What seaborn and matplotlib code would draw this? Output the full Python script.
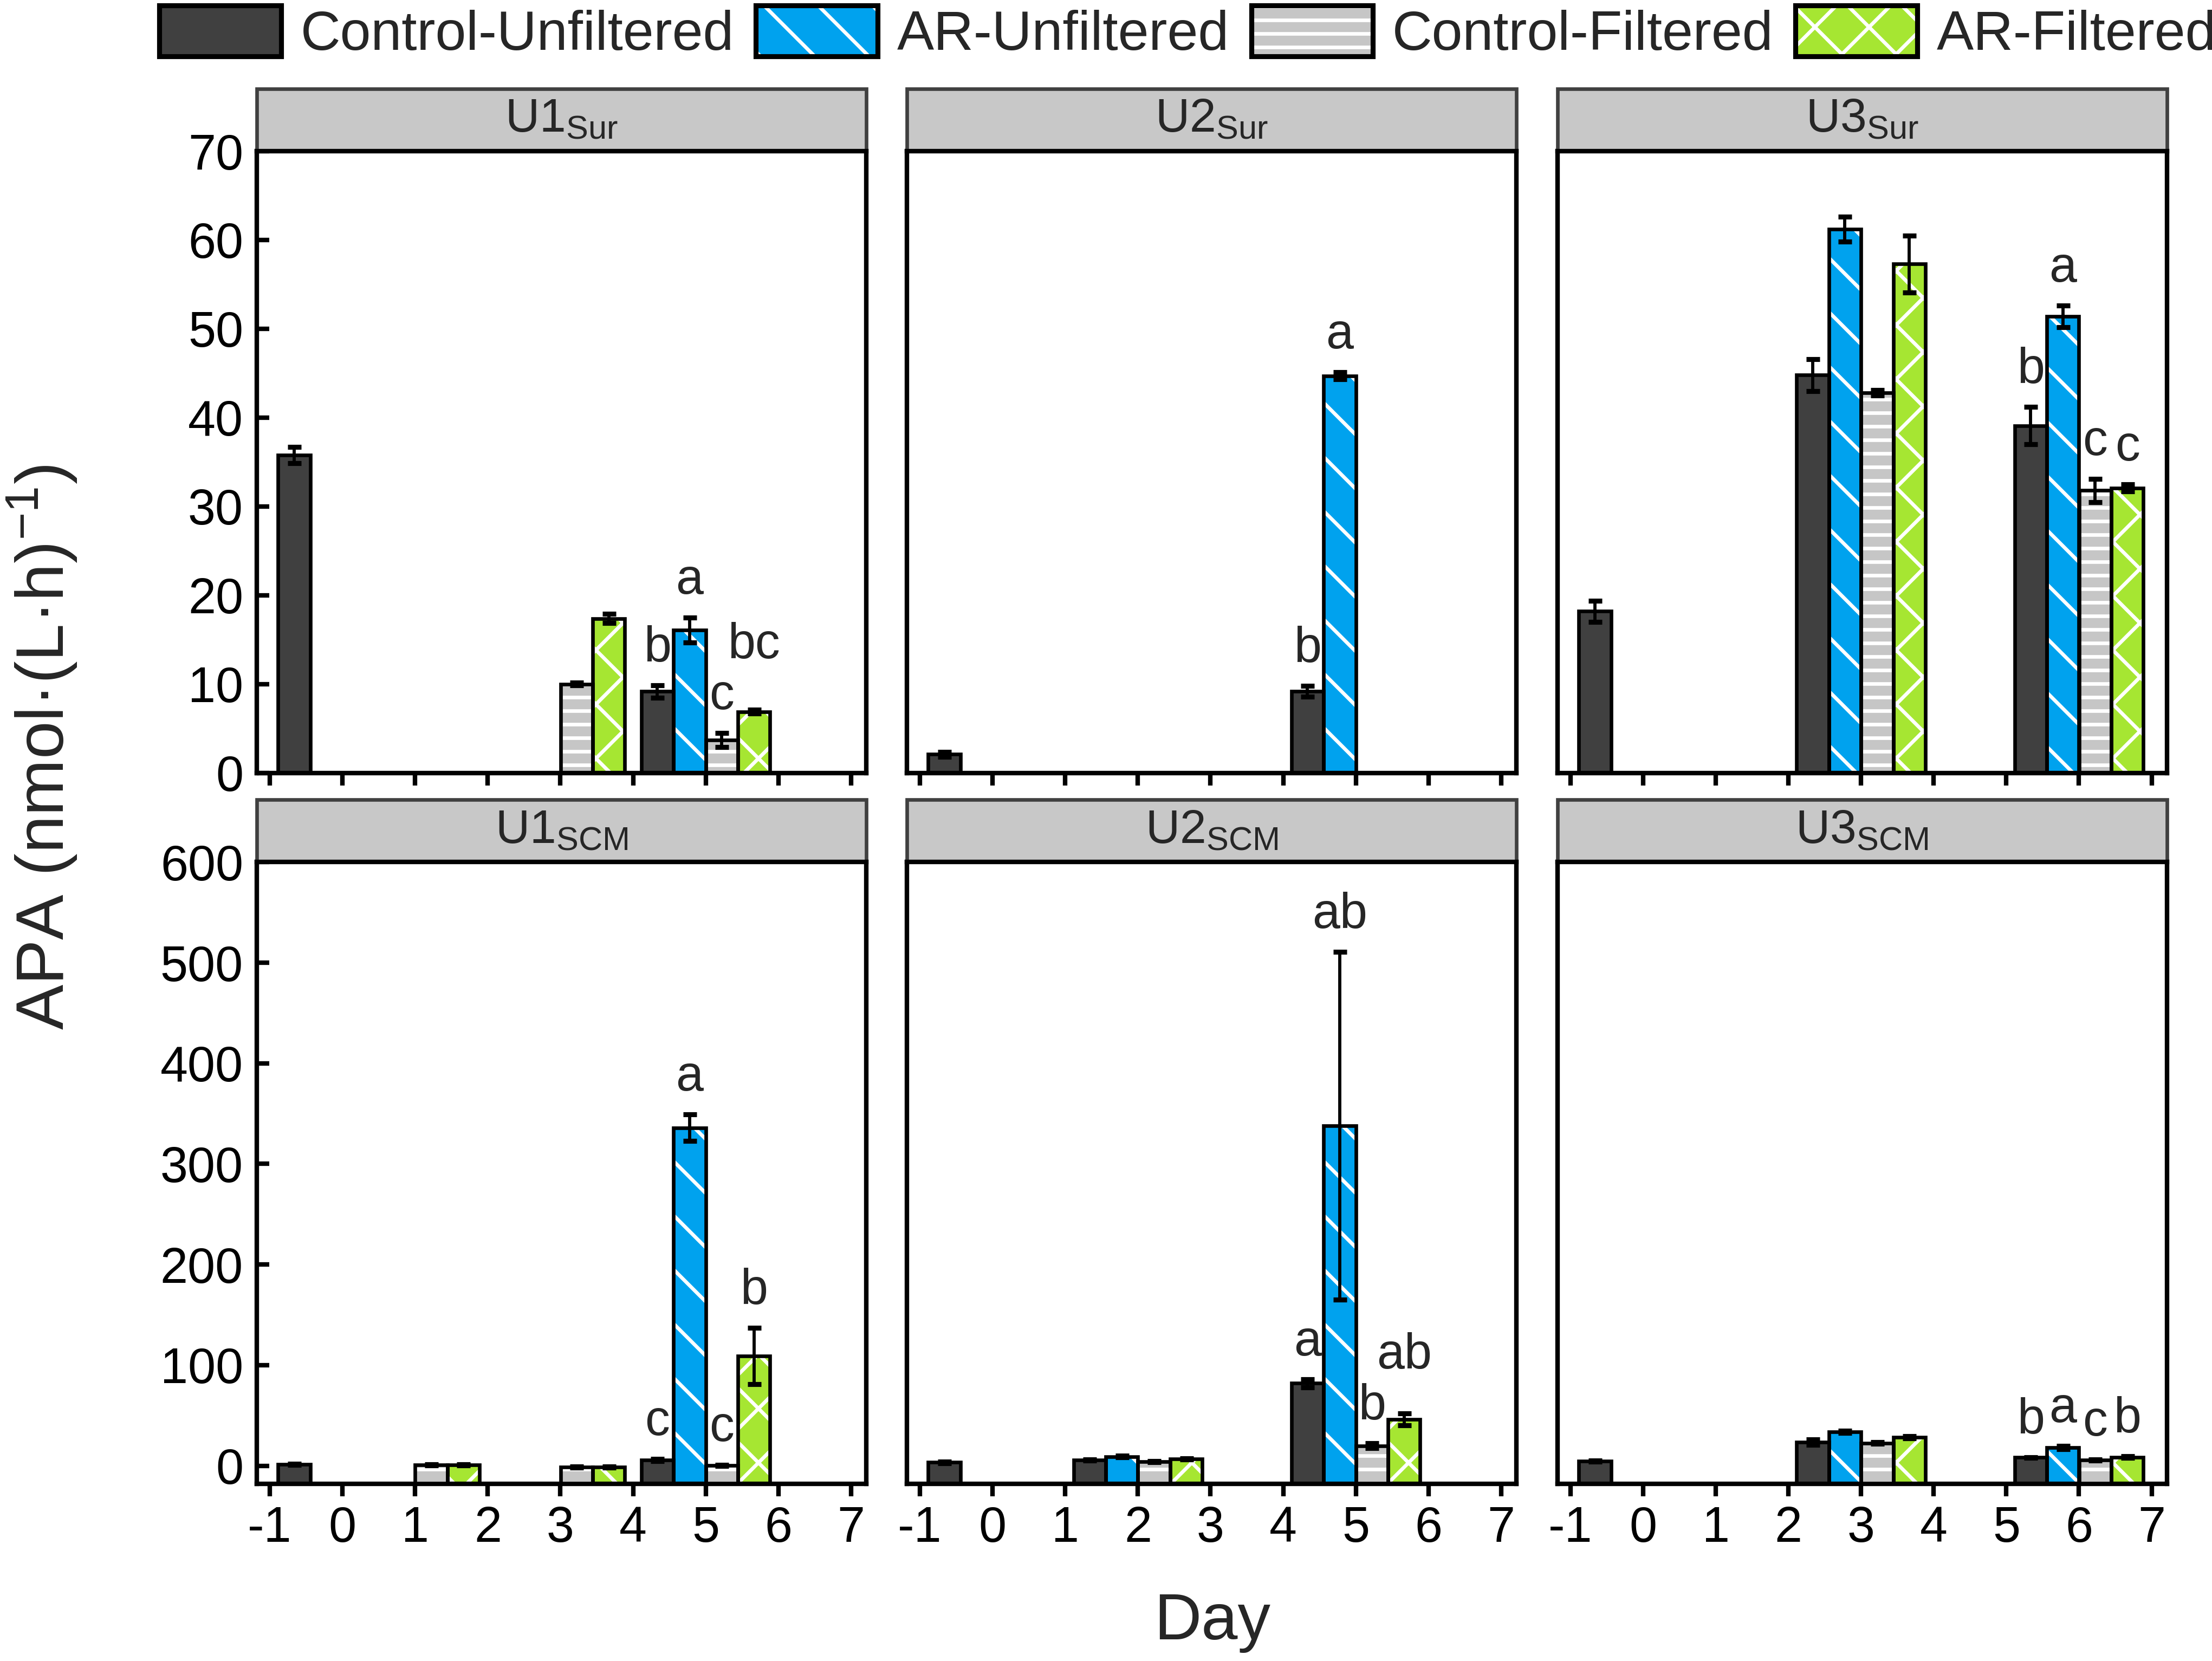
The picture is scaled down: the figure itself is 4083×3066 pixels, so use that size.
import matplotlib
matplotlib.use('Agg')
import matplotlib.pyplot as plt
from matplotlib.patches import Patch, Rectangle
from matplotlib.legend_handler import HandlerTuple
import seaborn as sns

# treatments (legend order) and their fills
treatments = ['Control-Unfiltered', 'AR-Unfiltered', 'Control-Filtered', 'AR-Filtered']
fill_colors = ['#404040', '#00a2ee', '#c6c6c6', '#a6e632']
hatches = ['', '\\', '--', 'x']

# panel titles: (station, layer)
stations = ['U1', 'U2', 'U3']
layers = ['Sur', 'SCM']

# each panel: sampling days, then mean / sd / letter per treatment (None = not sampled)
u1_sur_days = [0, 3, 5]
u1_sur_mean = [[35.8, None, None, None], [None, None, 10.0, 17.4], [9.2, 16.1, 3.7, 6.9]]
u1_sur_sd = [[0.9, 0, 0, 0], [0, 0, 0.15, 0.5], [0.7, 1.4, 0.8, 0.2]]
u1_sur_letters = [['', '', '', ''], ['', '', '', ''], ['b', 'a', 'c', 'bc']]

u2_sur_days = [0, 5]
u2_sur_mean = [[2.1, None, None, None], [9.2, 44.7, None, None]]
u2_sur_sd = [[0.3, 0, 0, 0], [0.6, 0.4, 0, 0]]
u2_sur_letters = [['', '', '', ''], ['b', 'a', '', '']]

u3_sur_days = [0, 3, 6]
u3_sur_mean = [[18.2, None, None, None], [44.8, 61.2, 42.8, 57.3], [39.1, 51.4, 31.8, 32.1]]
u3_sur_sd = [[1.2, 0, 0, 0], [1.8, 1.4, 0.3, 3.2], [2.1, 1.2, 1.3, 0.4]]
u3_sur_letters = [['', '', '', ''], ['', '', '', ''], ['b', 'a', 'c', 'c']]

u1_scm_days = [0, 1, 3, 5]
u1_scm_mean = [[1.4, None, None, None], [None, None, 1.0, 1.0], [None, None, -1.4, -1.4],
               [5.8, 336.0, 0.5, 109.0]]
u1_scm_sd = [[0.5, 0, 0, 0], [0, 0, 0.5, 0.5], [0, 0, 0.5, 0.5], [1.2, 13.0, 0.5, 28.0]]
u1_scm_letters = [['', '', '', ''], ['', '', '', ''], ['', '', '', ''], ['c', 'a', 'c', 'b']]

u2_scm_days = [0, 2, 5]
u2_scm_mean = [[3.4, None, None, None], [5.8, 9.2, 4.3, 6.7], [82.0, 338.0, 20.0, 46.0]]
u2_scm_sd = [[0.8, 0, 0, 0], [0.5, 0.8, 0.5, 0.5], [4.0, 173.0, 2.5, 6.0]]
u2_scm_letters = [['', '', '', ''], ['', '', '', ''], ['a', 'ab', 'b', 'ab']]

u3_scm_days = [0, 3, 6]
u3_scm_mean = [[4.8, None, None, None], [23.6, 33.7, 22.6, 28.4], [8.2, 18.3, 5.8, 8.7]]
u3_scm_sd = [[0.5, 0, 0, 0], [2.5, 1.2, 0.8, 1.0], [0.5, 1.5, 0.5, 1.0]]
u3_scm_letters = [['', '', '', ''], ['', '', '', ''], ['b', 'a', 'c', 'b']]

panels = [
    [(u1_sur_days, u1_sur_mean, u1_sur_sd, u1_sur_letters),
     (u2_sur_days, u2_sur_mean, u2_sur_sd, u2_sur_letters),
     (u3_sur_days, u3_sur_mean, u3_sur_sd, u3_sur_letters)],
    [(u1_scm_days, u1_scm_mean, u1_scm_sd, u1_scm_letters),
     (u2_scm_days, u2_scm_mean, u2_scm_sd, u2_scm_letters),
     (u3_scm_days, u3_scm_mean, u3_scm_sd, u3_scm_letters)],
]

x_ticks = [-1, 0, 1, 2, 3, 4, 5, 6, 7]
row_ylim = [(0, 70), (-18, 600)]
row_yticks = [list(range(0, 71, 10)), list(range(0, 601, 100))]

sns.set_theme(style='ticks')
plt.rcParams['font.family'] = ['Liberation Sans', 'DejaVu Sans']
plt.rcParams['mathtext.fontset'] = 'custom'
plt.rcParams['mathtext.rm'] = 'Liberation Sans'
plt.rcParams['mathtext.it'] = 'Liberation Sans:italic'
plt.rcParams['hatch.linewidth'] = 1.6
plt.rcParams['axes.linewidth'] = 2.0

fig = plt.figure(figsize=(4083 / 300, 3066 / 300), dpi=300)

col_left = [0.1161, 0.4100, 0.7041]
row_bottom = [0.5346, 0.1066]
ax_w, ax_h = 0.2755, 0.3744
strip_h = 0.10

offsets = [-0.665, -0.222, 0.222, 0.665]
bar_w = 0.443

panel_letters = []
for r in range(2):
    base = row_ylim[r][0]
    for c in range(3):
        ax = fig.add_axes([col_left[c], row_bottom[r], ax_w, ax_h])
        days, means, sds, letters = panels[r][c]
        texts = []
        for g, day in enumerate(days):
            for t in range(4):
                val = means[g][t]
                if val is None:
                    continue
                x = day + offsets[t]
                ax.bar(x, val - base, bottom=base, width=bar_w, color=fill_colors[t],
                       edgecolor='white', linewidth=0, hatch=hatches[t], zorder=2)
                ax.bar(x, val - base, bottom=base, width=bar_w, fill=False,
                       edgecolor='black', linewidth=1.6, zorder=3)
                ax.errorbar(x, val, yerr=sds[g][t], fmt='none', ecolor='black',
                            elinewidth=1.4, capsize=3.0, capthick=2.2, zorder=4)
                if letters[g][t]:
                    texts.append(ax.annotate(letters[g][t], (x, val + sds[g][t]),
                                             xytext=(0, 6), textcoords='offset points',
                                             ha='center', va='bottom', fontsize=22,
                                             zorder=5))
        panel_letters.append(texts)
        ax.set_xlim(-1.18, 7.21)
        ax.set_ylim(*row_ylim[r])
        ax.set_xticks(x_ticks)
        ax.set_yticks(row_yticks[r])
        for sp in ax.spines.values():
            sp.set_linewidth(2.0)
            sp.set_color('black')
        ax.tick_params(axis='x', direction='out', length=5.5, width=2.0, labelsize=22,
                       colors='black', pad=4)
        ax.tick_params(axis='y', direction='in', length=5.5, width=2.0, labelsize=22,
                       colors='black', pad=6)
        if r == 1:
            ax.set_xticklabels([str(v) for v in x_ticks])
        else:
            ax.tick_params(axis='x', labelbottom=False)
        if c != 0:
            ax.tick_params(axis='y', left=False, labelleft=False)

        # strip header
        ax.add_patch(Rectangle((0, 1), 1, strip_h, transform=ax.transAxes, clip_on=False,
                               facecolor='#c8c8c8', edgecolor='#404040', linewidth=1.6,
                               zorder=6))
        ax.text(0.5, 1 + strip_h / 2, stations[c] + r'$_{\mathrm{' + layers[r] + '}}$',
                transform=ax.transAxes, ha='center', va='center', fontsize=21, zorder=7)
        ax.spines['top'].set_zorder(8)

# lift a significance letter above its left neighbour when the two collide
fig.canvas.draw()
renderer = fig.canvas.get_renderer()
for texts in panel_letters:
    placed = []
    for txt in texts:
        bb = txt.get_window_extent(renderer)
        for pb in placed:
            if bb.x0 < pb.x1 - 1 and bb.y0 < pb.y1 and bb.y1 > pb.y0:
                lift = (pb.y1 - bb.y0) * 72 / fig.dpi + 2
                ox, oy = txt.xyann
                txt.xyann = (ox, oy + lift)
                bb = txt.get_window_extent(renderer)
        placed.append(bb)

handles = []
for t in range(4):
    handles.append((Patch(facecolor=fill_colors[t], edgecolor='white', linewidth=0,
                          hatch=hatches[t]),
                    Patch(facecolor='none', edgecolor='black', linewidth=2.2)))
fig.legend(handles, treatments, handler_map={tuple: HandlerTuple(ndivide=1, pad=0)},
           loc='center', bbox_to_anchor=(0.537, 0.98), ncol=4, frameon=False,
           fontsize=24.5, handlelength=2.2, handleheight=1.05, handletextpad=0.35,
           columnspacing=0.4, borderpad=0.1)

fig.text(0.019, 0.55, 'APA (nmol\u00b7(L\u00b7h)$^{-1}$)', rotation=90, ha='center',
         va='center', fontsize=30)
fig.text(0.548, 0.023, 'Day', ha='center', va='center', fontsize=29)

fig.savefig('out.png', dpi=300)
